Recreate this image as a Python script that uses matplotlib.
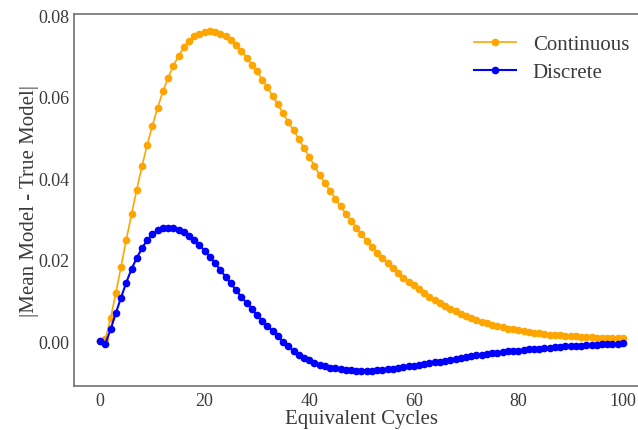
import matplotlib
matplotlib.use("Agg")
import matplotlib.pyplot as plt
import numpy as np

cycles = list(range(0, 101))

continuous = [
    0.0000, 0.0005, 0.0056, 0.0118, 0.0183, 0.0249, 0.0311, 0.0372, 0.0429, 0.0482,
    0.0529, 0.0573, 0.0613, 0.0646, 0.0676, 0.0700, 0.0721, 0.0736, 0.0748, 0.0755,
    0.0760, 0.0761, 0.0760, 0.0755, 0.0748, 0.0738, 0.0726, 0.0712, 0.0696, 0.0679,
    0.0662, 0.0642, 0.0623, 0.0602, 0.0581, 0.0559, 0.0538, 0.0518, 0.0496, 0.0474,
    0.0453, 0.0430, 0.0408, 0.0388, 0.0369, 0.0350, 0.0331, 0.0313, 0.0296, 0.0279,
    0.0262, 0.0246, 0.0231, 0.0217, 0.0204, 0.0191, 0.0179, 0.0167, 0.0156, 0.0146,
    0.0137, 0.0128, 0.0118, 0.0109, 0.0101, 0.0093, 0.0086, 0.0079, 0.0073, 0.0067,
    0.0062, 0.0057, 0.0052, 0.0048, 0.0044, 0.0040, 0.0037, 0.0034, 0.0031, 0.0029,
    0.0027, 0.0025, 0.0023, 0.0021, 0.0019, 0.0018, 0.0016, 0.0015, 0.0014, 0.0013,
    0.0013, 0.0012, 0.0011, 0.0010, 0.0010, 0.0009, 0.0009, 0.0008, 0.0008, 0.0007,
    0.0007,
]

discrete = [
    0.0000, -0.0006, 0.0029, 0.0069, 0.0107, 0.0144, 0.0177, 0.0204, 0.0228, 0.0248,
    0.0262, 0.0272, 0.0277, 0.0278, 0.0277, 0.0272, 0.0267, 0.0258, 0.0248, 0.0236,
    0.0222, 0.0207, 0.0191, 0.0175, 0.0158, 0.0142, 0.0125, 0.0109, 0.0094, 0.0079,
    0.0064, 0.0050, 0.0038, 0.0025, 0.0012, -0.0001, -0.0013, -0.0024, -0.0033, -0.0041,
    -0.0047, -0.0053, -0.0058, -0.0061, -0.0065, -0.0067, -0.0069, -0.0070, -0.0071, -0.0072,
    -0.0072, -0.0072, -0.0072, -0.0071, -0.0070, -0.0069, -0.0068, -0.0066, -0.0064, -0.0062,
    -0.0060, -0.0058, -0.0056, -0.0054, -0.0052, -0.0050, -0.0048, -0.0045, -0.0043, -0.0041,
    -0.0039, -0.0037, -0.0035, -0.0033, -0.0031, -0.0030, -0.0028, -0.0027, -0.0025, -0.0024,
    -0.0023, -0.0021, -0.0020, -0.0019, -0.0018, -0.0017, -0.0016, -0.0015, -0.0014, -0.0013,
    -0.0012, -0.0011, -0.0011, -0.0010, -0.0009, -0.0009, -0.0008, -0.0007, -0.0007, -0.0006,
    -0.0005,
]

series_labels = ["Continuous", "Discrete"]
x_ticks = [0, 20, 40, 60, 80, 100]
y_ticks = [0.00, 0.02, 0.04, 0.06, 0.08]

plt.rcParams['font.family'] = ['Liberation Serif', 'DejaVu Serif']
text_color = '#3a3a3a'

fig = plt.figure(figsize=(6.38, 4.31), dpi=100)
W, H = 638, 431
left, right, top, bottom = 74, 649, 15, 387
ax = fig.add_axes([left / W, 1 - bottom / H, (right - left) / W, (bottom - top) / H])

ax.plot(cycles, continuous, color='orange', marker='o', markersize=4.5, linewidth=1.2,
        label=series_labels[0])
ax.plot(cycles, discrete, color='blue', marker='o', markersize=4.5, linewidth=1.5,
        label=series_labels[1])

ax.set_xlim(-5, 105)
ax.set_ylim(-0.0110, 0.0803)
ax.set_xticks(x_ticks)
ax.set_yticks(y_ticks)
ax.set_xticklabels([str(t) for t in x_ticks])
ax.set_yticklabels([f"{t:.2f}" for t in y_ticks])
ax.tick_params(axis='both', length=0, labelsize=13, labelcolor=text_color)
ax.tick_params(axis='y', pad=3)
ax.tick_params(axis='x', pad=4)

for s in ax.spines.values():
    s.set_color('#707070')
    s.set_linewidth(1.2)

ax.set_xlabel("Equivalent Cycles", fontsize=15, color=text_color, labelpad=0)
ax.set_ylabel("|Mean Model - True Model|", fontsize=15, color=text_color, labelpad=0)

leg = ax.legend(loc='upper right', bbox_to_anchor=(0.998, 0.995), frameon=False,
                fontsize=15, handlelength=2.0, labelspacing=0.4, handletextpad=0.8)
for t in leg.get_texts():
    t.set_color(text_color)

fig.savefig("out.png", dpi=100)
